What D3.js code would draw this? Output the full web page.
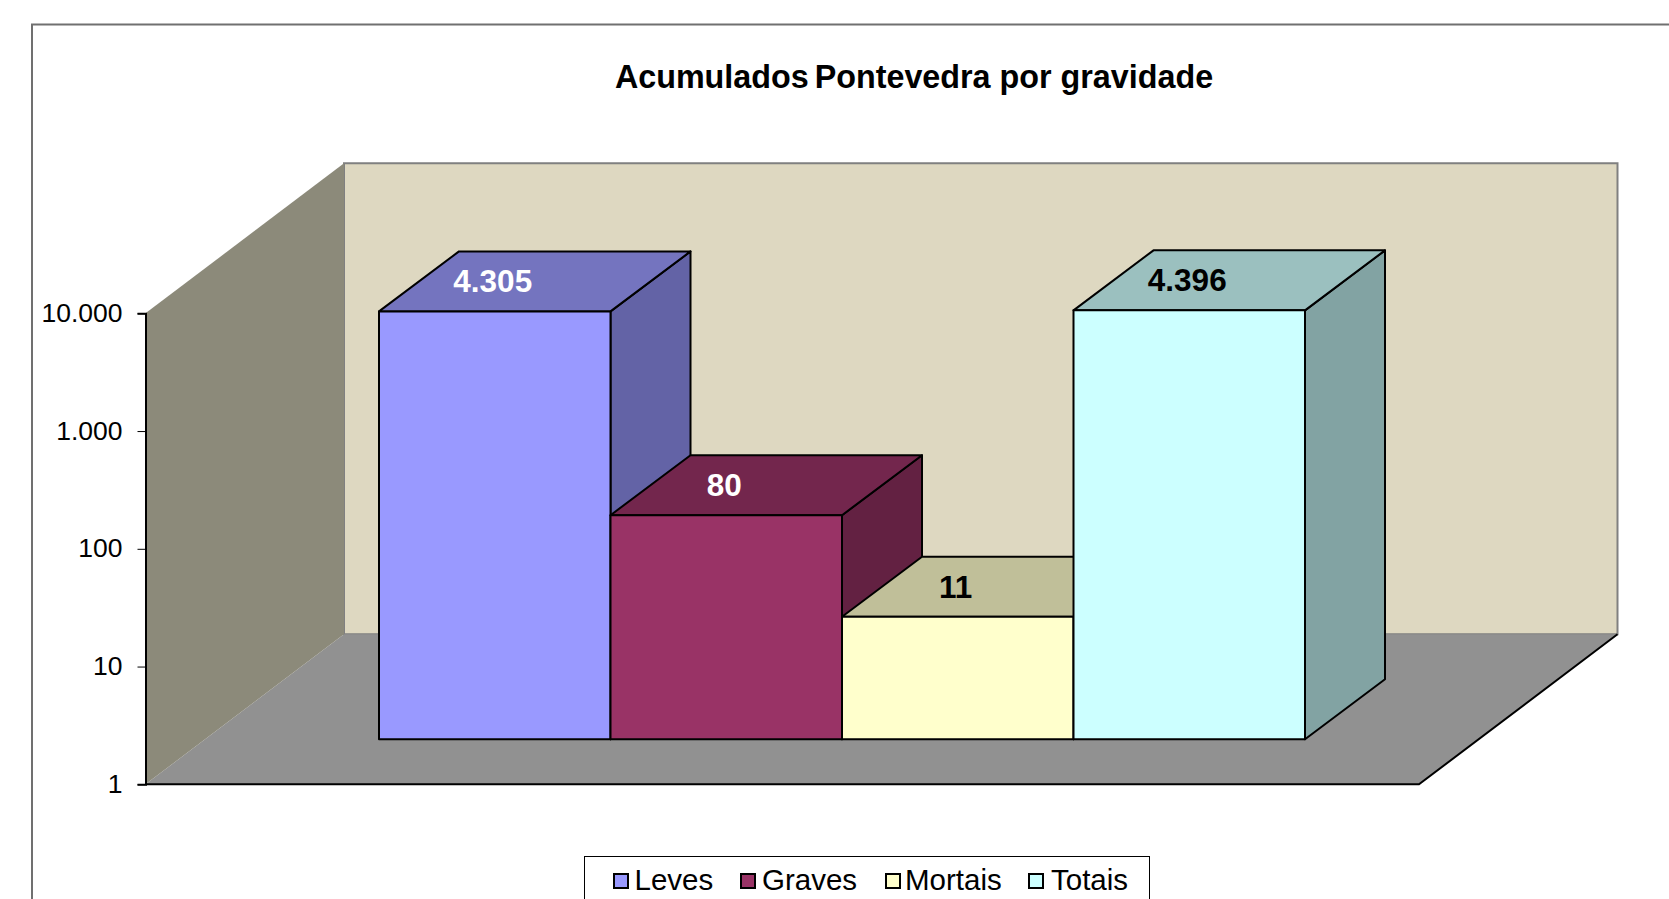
<!DOCTYPE html>
<html>
<head>
<meta charset="utf-8">
<script src="https://cdn.jsdelivr.net/npm/d3@7"></script>
<style>
html, body { margin: 0; padding: 0; background: #fff; overflow: hidden; }
text { font-family: "Liberation Sans", Arial, sans-serif; }
</style>
</head>
<body>
<div id="graph"></div>
<script>
//chart values
var categories = ["Leves", "Graves", "Mortais", "Totais"];
var values = [4305, 80, 11, 4396];
var valueLabels = ["4.305", "80", "11", "4.396"];
var tickValues = [1, 10, 100, 1000, 10000];
var tickLabels = ["1", "10", "100", "1.000", "10.000"];
var frontColors = ["#9999ff", "#993366", "#ffffcc", "#ccffff"];
var topColors = ["#7474bf", "#73264d", "#c0bf99", "#9bc0bf"];
var sideColors = ["#6363a6", "#632142", "#a6a684", "#82a3a3"];
var labelColors = ["#fff", "#fff", "#000", "#000"];

const width = 1669, height = 899;
const svg = d3.select("#graph").append("svg")
    .attr("width", width)
    .attr("height", height)
    .style("display", "block");

//outer frame, runs off the right and bottom of the picture
svg.append("rect")
    .attr("x", 32).attr("y", 24.5)
    .attr("width", 1700).attr("height", 1000)
    .attr("fill", "#fff")
    .attr("stroke", "#707070")
    .attr("stroke-width", 2);

//title, the gap after the first word is narrower in the original
const title = svg.append("text")
    .attr("x", 914).attr("y", 88)
    .attr("text-anchor", "middle")
    .attr("font-size", 32.3)
    .attr("font-weight", "bold")
    .attr("xml:space", "preserve");
title.append("tspan").text("Acumulados ");
title.append("tspan").attr("dx", -3).text("Pontevedra por gravidade");

//scales
const y = d3.scaleLog().domain([1, 10000]).range([784.3, 313.3]);
const x = d3.scaleBand().domain(categories).range([379, 1305]);

//depth of the room and of the bars
const roomX = 198.5, roomY = 150;
const barOffY = 45, barDX = 80, barDY = 60;
const axisX = 145.5;
const roomRight = 1419;

function poly(points) {
    return "M" + points.map(function(p){ return p.join(","); }).join("L") + "Z";
}

//back wall
svg.append("path")
    .attr("d", poly([[axisX + roomX, y(10000) - roomY], [roomRight + roomX, y(10000) - roomY],
        [roomRight + roomX, y(1) - roomY], [axisX + roomX, y(1) - roomY]]))
    .attr("fill", "#ded8c1")
    .attr("stroke", "#808080")
    .attr("stroke-width", 2);

//floor
svg.append("path")
    .attr("d", poly([[axisX, y(1)], [axisX + roomX, y(1) - roomY],
        [roomRight + roomX, y(1) - roomY], [roomRight, y(1)]]))
    .attr("fill", "#919191");
svg.append("path")
    .attr("d", "M" + axisX + "," + y(1) + "L" + roomRight + "," + y(1) + "L" + (roomRight + roomX) + "," + (y(1) - roomY))
    .attr("fill", "none")
    .attr("stroke", "#000")
    .attr("stroke-width", 2);

//left wall
svg.append("path")
    .attr("d", poly([[axisX, y(10000)], [axisX + roomX, y(10000) - roomY],
        [axisX + roomX, y(1) - roomY], [axisX, y(1)]]))
    .attr("fill", "#8c8a7a");

//value axis
const yAxis = d3.axisLeft(y)
    .tickValues(tickValues)
    .tickFormat(function(d, i){ return tickLabels[i]; })
    .tickSize(8)
    .tickPadding(15);
const axisG = svg.append("g")
    .attr("transform", "translate(" + axisX + ",0)")
    .call(yAxis);
axisG.select(".domain").attr("stroke", "#000").attr("stroke-width", 2);
axisG.selectAll(".tick line").attr("stroke", "#000").attr("stroke-width", 1);
axisG.selectAll(".tick text")
    .attr("font-size", 26.5)
    .attr("dy", "0.3em")
    .attr("fill", "#000")
    .style("font-family", '"Liberation Sans", Arial, sans-serif');

//bars, in order so the front faces overlap the sides of their neighbours
const bars = svg.append("g").selectAll("g")
    .data(categories)
    .enter().append("g")
    .attr("stroke", "#000")
    .attr("stroke-width", 2)
    .attr("stroke-linejoin", "round");

function barBox(i) {
    return {
        l: x(categories[i]),
        r: x(categories[i]) + x.bandwidth(),
        t: y(values[i]) - barOffY,
        b: y(1) - barOffY
    };
}

//side faces
bars.append("path")
    .attr("fill", function(d, i){ return sideColors[i]; })
    .attr("d", function(d, i){
        const b = barBox(i);
        return poly([[b.r, b.t], [b.r + barDX, b.t - barDY], [b.r + barDX, b.b - barDY], [b.r, b.b]]);
    });

//top faces
bars.append("path")
    .attr("fill", function(d, i){ return topColors[i]; })
    .attr("d", function(d, i){
        const b = barBox(i);
        return poly([[b.l, b.t], [b.l + barDX, b.t - barDY], [b.r + barDX, b.t - barDY], [b.r, b.t]]);
    });

//front faces
bars.append("path")
    .attr("fill", function(d, i){ return frontColors[i]; })
    .attr("d", function(d, i){
        const b = barBox(i);
        return poly([[b.l, b.t], [b.r, b.t], [b.r, b.b], [b.l, b.b]]);
    });

//value labels sit on the top faces
svg.append("g").selectAll("text")
    .data(categories)
    .enter().append("text")
    .attr("x", function(d, i){ const b = barBox(i); return (b.l + b.r) / 2 - 2; })
    .attr("y", function(d, i){ return barBox(i).t - 19; })
    .attr("text-anchor", "middle")
    .attr("font-size", 31.5)
    .attr("font-weight", "bold")
    .attr("fill", function(d, i){ return labelColors[i]; })
    .text(function(d, i){ return valueLabels[i]; });

//legend, cut by the bottom of the picture
svg.append("rect")
    .attr("x", 584.5).attr("y", 856.5)
    .attr("width", 565).attr("height", 80)
    .attr("fill", "#fff")
    .attr("stroke", "#000")
    .attr("stroke-width", 1);

const swatchX = [614, 741, 886, 1029];
const legendTextX = [634.5, 762, 905, 1051];
const legendItems = svg.append("g").selectAll("g")
    .data(categories)
    .enter().append("g");
legendItems.append("rect")
    .attr("x", function(d, i){ return swatchX[i]; })
    .attr("y", 874)
    .attr("width", 14).attr("height", 14)
    .attr("fill", function(d, i){ return frontColors[i]; })
    .attr("stroke", "#000")
    .attr("stroke-width", 2);
legendItems.append("text")
    .attr("x", function(d, i){ return legendTextX[i]; })
    .attr("y", 890)
    .attr("font-size", 29.5)
    .text(function(d){ return d; });
</script>
</body>
</html>
